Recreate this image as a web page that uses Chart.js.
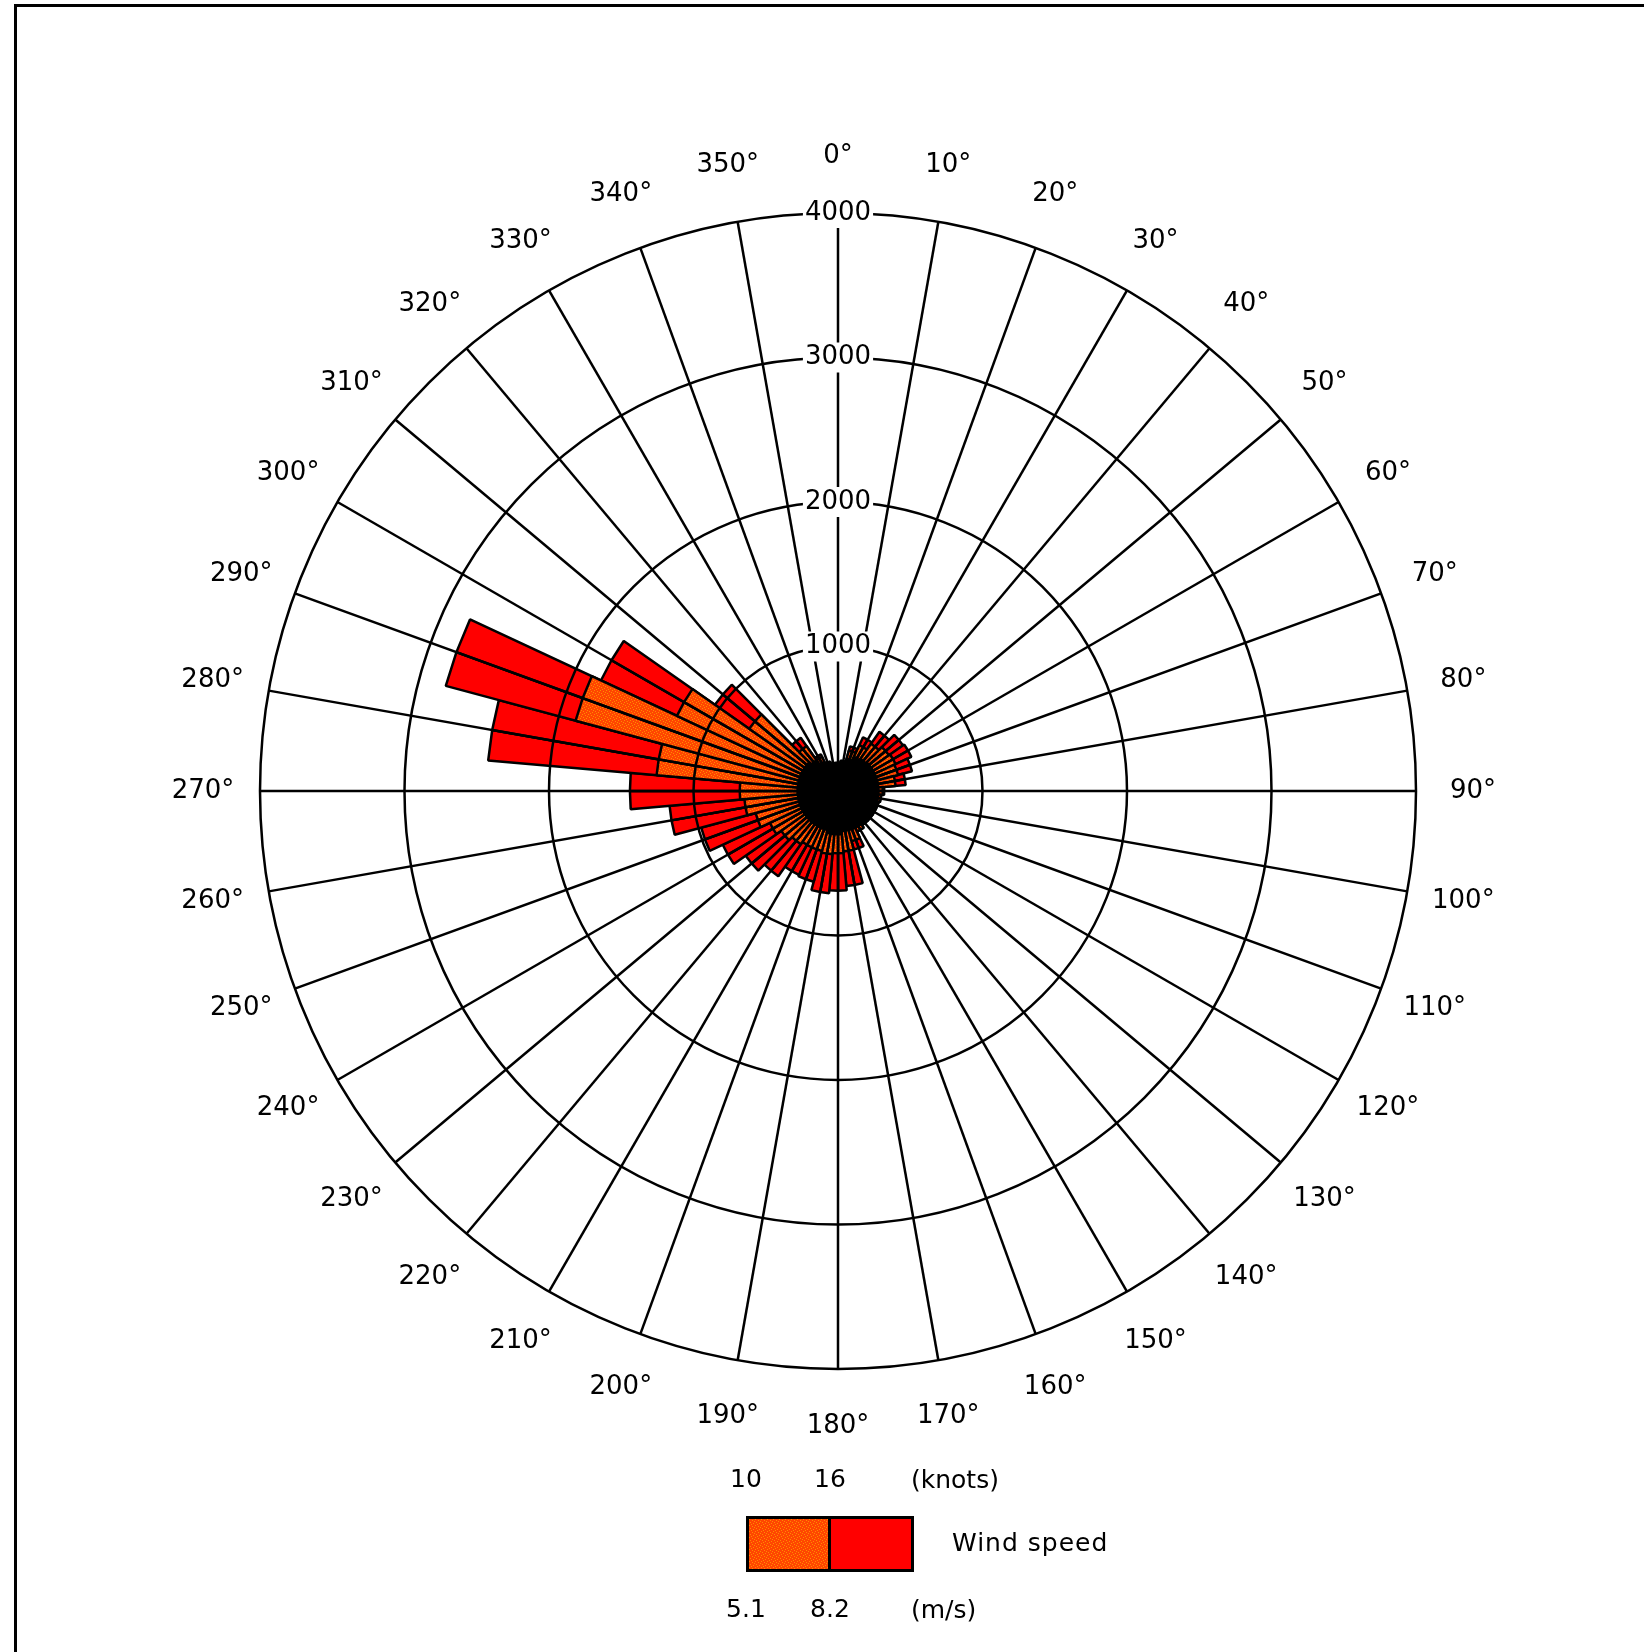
<!DOCTYPE html>
<html>
<head>
<meta charset="utf-8">
<title>Wind rose</title>
<script src="https://cdn.jsdelivr.net/npm/chart.js@4.4.1/dist/chart.umd.min.js"></script>
<style>
    html, body { margin: 0; padding: 0; background: #fff; }
    body { width: 1644px; height: 1652px; position: relative; overflow: hidden; font-family: "DejaVu Sans", sans-serif; }
    #frame { position: absolute; left: 14px; top: 4px; width: 1700px; height: 1700px; border-top: 3px solid #000; border-left: 3px solid #000; }
    #chartBox { position: absolute; left: 0; top: 0; width: 1644px; height: 1652px; }
    .lbl { position: absolute; font-size: 25px; line-height: 1; color: #000; white-space: nowrap; }
    .mid { transform: translate(-50%, -50%); }
    .left { transform: translate(0, -50%); }
    #swatch { position: absolute; left: 746px; top: 1516px; width: 168px; height: 56px; border: 3px solid #000; box-sizing: border-box; display: flex; }
    #swatch div { height: 100%; }
</style>
</head>
<body>
<div id="frame"></div>
<div id="chartBox"><canvas id="rose"></canvas></div>
<div id="legend"></div>

<script>
// wind direction sectors (degrees, 10 degree bins)
const directions = [0, 10, 20, 30, 40, 50, 60, 70, 80, 90, 100, 110, 120, 130, 140, 150, 160, 170,
                    180, 190, 200, 210, 220, 230, 240, 250, 260, 270, 280, 290, 300, 310, 320, 330, 340, 350];
const directionLabels = directions.map(d => d + "°");

// counts per sector for each wind speed class
const below51 = [180, 190, 230, 260, 270, 280, 280, 280, 280, 280, 280, 280, 280, 280, 280, 280, 280, 280,
                 300, 300, 280, 280, 280, 280, 280, 280, 280, 280, 280, 280, 280, 280, 260, 220, 200, 190];
const from51to82 = [15, 20, 60, 90, 130, 150, 160, 150, 120, 30, 20, 10, 10, 10, 10, 30, 80, 140,
                    130, 140, 150, 150, 170, 200, 240, 310, 370, 400, 980, 1600, 950, 470, 120, 40, 10, 5];
const above82 = [0, 0, 30, 60, 100, 120, 120, 100, 70, 10, 0, 0, 0, 0, 0, 0, 60, 240,
                 260, 270, 220, 210, 270, 300, 360, 390, 520, 760, 1170, 930, 580, 290, 70, 20, 0, 0];

const rTickStep = 1000;
const rMax = 4000;

// legend texts
const knotLimits = ["10", "16"];
const msLimits = ["5.1", "8.2"];

document.addEventListener("DOMContentLoaded", function () {

    // orange fill is dithered like the original
    const tile = document.createElement("canvas");
    tile.width = 6; tile.height = 6;
    const t = tile.getContext("2d");
    t.fillStyle = "#ff4600";
    t.fillRect(0, 0, 6, 6);
    t.fillStyle = "#ff8c00";
    [[0, 0], [3, 1], [1, 3], [4, 4], [5, 2], [2, 5]].forEach(p => t.fillRect(p[0], p[1], 1, 1));

    const canvas = document.getElementById("rose");
    const orangeFill = canvas.getContext("2d").createPattern(tile, "repeat");

    // each 10 deg bar is split into two 5 deg halves so the spokes fall on bar centres
    const halfLabels = [];
    const sectorOf = [];
    for (let j = 0; j < directions.length * 2; j++) {
        sectorOf.push(Math.floor((j + 1) / 2) % directions.length);
        halfLabels.push(j % 2 === 0 ? directionLabels[j / 2] : "");
    }
    const cumInner = sectorOf.map(k => below51[k]);
    const cumMid = sectorOf.map(k => below51[k] + from51to82[k]);
    const cumTotal = sectorOf.map(k => below51[k] + from51to82[k] + above82[k]);

    const directionLabelPlugin = {
        id: "directionLabels",
        afterDraw(chart) {
            const scale = chart.scales.r;
            const ctx = chart.ctx;
            ctx.save();
            ctx.font = "26px 'DejaVu Sans'";
            ctx.fillStyle = "#000";
            ctx.textAlign = "center";
            ctx.textBaseline = "middle";
            directionLabels.forEach((text, k) => {
                const p = scale.getPointPosition(2 * k, scale.drawingArea + 57);
                ctx.fillText(text, p.x, p.y);
            });
            ctx.restore();
        }
    };

    new Chart(canvas, {
        type: "polarArea",
        data: {
            labels: halfLabels,
            datasets: [
                { label: "< 5.1 m/s", data: cumInner, backgroundColor: "#000000", borderColor: "#000", borderWidth: 2.5 },
                { label: "5.1 - 8.2 m/s", data: cumMid, backgroundColor: orangeFill, borderColor: "#000", borderWidth: 2.5 },
                { label: "> 8.2 m/s", data: cumTotal, backgroundColor: "#ff0000", borderColor: "#000", borderWidth: 2.5 }
            ]
        },
        options: {
            responsive: true,
            maintainAspectRatio: false,
            animation: false,
            events: [],
            layout: { padding: { left: 245, top: 198, right: 213, bottom: 268 } },
            elements: { arc: { circular: false } },
            plugins: {
                legend: { display: false },
                tooltip: { enabled: false }
            },
            scales: {
                r: {
                    min: 0,
                    max: rMax,
                    startAngle: 0,
                    ticks: {
                        stepSize: rTickStep,
                        z: 2,
                        color: "#000",
                        font: { family: "DejaVu Sans", size: 26 },
                        backdropColor: "#fff",
                        backdropPadding: 2,
                        callback: v => String(v)
                    },
                    grid: { z: 1, color: "#000", lineWidth: 2.5, circular: true },
                    angleLines: {
                        display: true,
                        color: "#000",
                        lineWidth: ctx => (ctx.index % 2 === 0 ? 2.5 : 0)
                    },
                    pointLabels: { display: false }
                }
            }
        },
        plugins: [directionLabelPlugin]
    });

    /*** LEGEND ***/
    const legend = document.getElementById("legend");
    const edgesX = [746, 830];
    knotLimits.forEach((txt, i) => {
        legend.insertAdjacentHTML("beforeend", `<span class="lbl mid" style="left:${edgesX[i]}px;top:1478px">${txt}</span>`);
    });
    msLimits.forEach((txt, i) => {
        legend.insertAdjacentHTML("beforeend", `<span class="lbl mid" style="left:${edgesX[i]}px;top:1608px">${txt}</span>`);
    });
    legend.insertAdjacentHTML("beforeend", `<span class="lbl left" style="left:911px;top:1479px">(knots)</span>`);
    legend.insertAdjacentHTML("beforeend", `<span class="lbl left" style="left:911px;top:1609px">(m/s)</span>`);
    legend.insertAdjacentHTML("beforeend", `<span class="lbl left" style="left:952px;top:1542px;letter-spacing:1px">Wind speed</span>`);
    legend.insertAdjacentHTML("beforeend",
        `<div id="swatch"><div style="width:79px;background:url(${tile.toDataURL()})"></div>` +
        `<div style="width:3px;background:#000"></div><div style="flex:1;background:#ff0000"></div></div>`);
});
</script>
</body>
</html>
